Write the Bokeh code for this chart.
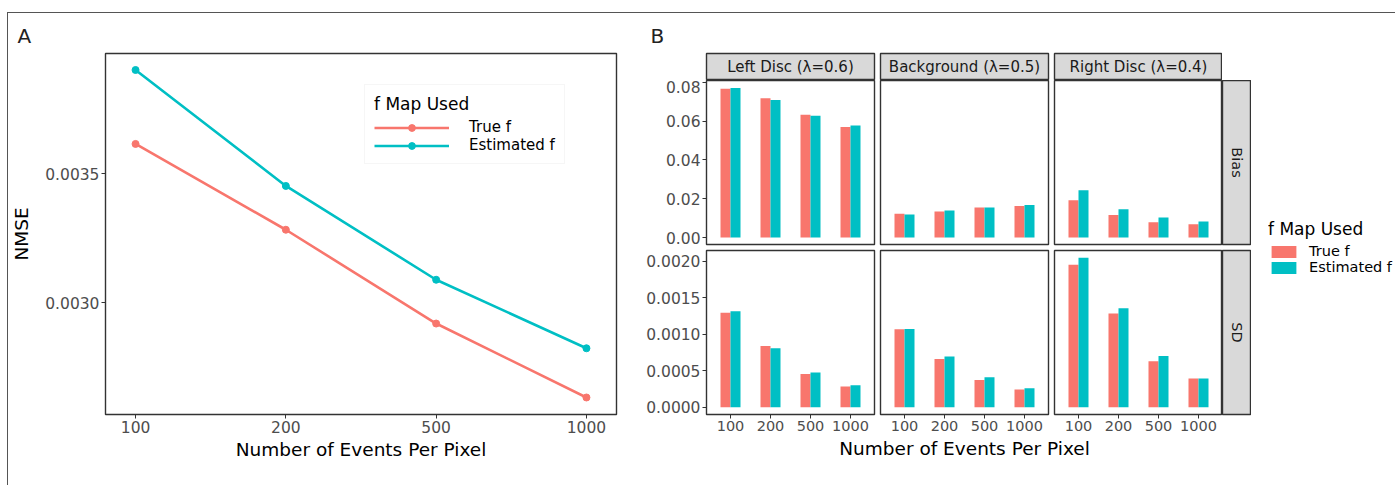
from bokeh.plotting import figure
from bokeh.models import (ColumnDataSource, Range1d, FixedTicker, Legend, LegendItem,
                          Spacer, PrintfTickFormatter, Title)
from bokeh.layouts import row, column
from bokeh.transform import dodge
from bokeh.embed import file_html
from bokeh.resources import INLINE
from bokeh.core.properties import value

# ---------------- data ----------------
events = ["100", "200", "500", "1000"]

# Panel A: NMSE
nmse_true = [0.003616, 0.003283, 0.002919, 0.002632]
nmse_est = [0.003903, 0.003453, 0.003089, 0.002823]
nmse_ticks = [0.0030, 0.0035]

# Panel B
regions = ["Left Disc (\u03bb=0.6)", "Background (\u03bb=0.5)", "Right Disc (\u03bb=0.4)"]
metrics = ["Bias", "SD"]
bias_true = [[0.0766, 0.0718, 0.0632, 0.0569],
             [0.0123, 0.0134, 0.0154, 0.0163],
             [0.0192, 0.0116, 0.0079, 0.0068]]
bias_est = [[0.0771, 0.0709, 0.0627, 0.0577],
            [0.0118, 0.0139, 0.0154, 0.0168],
            [0.0243, 0.0146, 0.0103, 0.0082]]
sd_true = [[0.001297, 0.000841, 0.000457, 0.000284],
           [0.001068, 0.000663, 0.000375, 0.000242],
           [0.001955, 0.001284, 0.000630, 0.000393]]
sd_est = [[0.001315, 0.000808, 0.000475, 0.000301],
          [0.001074, 0.000695, 0.000411, 0.000260],
          [0.002050, 0.001356, 0.000704, 0.000393]]
bias_ticks = [0.0, 0.02, 0.04, 0.06, 0.08]
sd_ticks = [0.0, 0.0005, 0.0010, 0.0015, 0.0020]
series = ["True f", "Estimated f"]
x_title = "Number of Events Per Pixel"
legend_title = "f Map Used"
panel_tags = ["A", "B"]

# ---------------- style ----------------
FONT = "DejaVu Sans"
RED = "#F8766D"
TEAL = "#00BFC4"
BORDER = "#333333"
FRAMEC = "#555555"
xi = list(range(1, len(events) + 1))


def base_fig(width, height, ml, mr, mt, mb, xr, yr, xloc=None, yloc=None):
    p = figure(width=width, height=height, x_range=xr, y_range=yr,
               x_axis_location=xloc, y_axis_location=yloc,
               output_backend="svg", toolbar_location=None, title=None,
               min_border_left=ml, min_border_right=mr,
               min_border_top=mt, min_border_bottom=mb)
    p.grid.visible = False
    p.outline_line_color = BORDER
    p.outline_line_width = 1.4
    p.background_fill_color = "white"
    p.border_fill_color = "white"
    return p


def style_axis(ax, size):
    ax.axis_line_color = None
    ax.major_tick_line_color = BORDER
    ax.major_tick_line_width = 1
    ax.major_tick_in = 0
    ax.major_tick_out = 4
    ax.minor_tick_line_color = None
    ax.major_label_text_font = FONT
    ax.major_label_text_font_size = size
    ax.major_label_text_color = "#4D4D4D"
    ax.major_label_standoff = 2
    ax.axis_label_text_font = FONT
    ax.axis_label_text_font_style = "normal"
    ax.axis_label_text_font_size = "18.5px"
    ax.axis_label_text_color = "black"


def legend_style(leg, label_size):
    leg.title_text_font = FONT
    leg.title_text_font_style = "normal"
    leg.title_text_font_size = "17px"
    leg.title_text_color = "black"
    leg.label_text_font = FONT
    leg.label_text_font_size = label_size
    leg.label_text_color = "black"


def tag_title(text, offset):
    return Title(text=text, align="left", offset=offset, standoff=11,
                 text_font=FONT, text_font_size="20px", text_font_style="normal",
                 text_color="#222222")


# ---------------- Panel A ----------------
srcA = ColumnDataSource(dict(x=xi, true=nmse_true, est=nmse_est))
pA = base_fig(632, 472, 92, 24, 40, 71, Range1d(0.8, 4.2), Range1d(0.002566, 0.003967),
              xloc="below", yloc="left")
lt = pA.line("x", "true", source=srcA, line_color=RED, line_width=2.6)
st = pA.scatter("x", "true", source=srcA, color=RED, size=7)
le = pA.line("x", "est", source=srcA, line_color=TEAL, line_width=2.6)
se = pA.scatter("x", "est", source=srcA, color=TEAL, size=7)

style_axis(pA.xaxis[0], "15.5px")
style_axis(pA.yaxis[0], "15.5px")
pA.xaxis.ticker = FixedTicker(ticks=xi)
pA.xaxis.major_label_overrides = {i: e for i, e in zip(xi, events)}
pA.xaxis.axis_label = x_title
pA.xaxis.axis_label_standoff = 3
pA.yaxis.ticker = FixedTicker(ticks=nmse_ticks)
pA.yaxis.formatter = PrintfTickFormatter(format="%.4f")
pA.yaxis.axis_label = "NMSE"
pA.yaxis.axis_label_standoff = 10

legA = Legend(items=[LegendItem(label=series[0], renderers=[lt, st]),
                     LegendItem(label=series[1], renderers=[le, se])],
              location=(259, 250), title=legend_title,
              glyph_width=75, glyph_height=17, label_height=17, label_standoff=20,
              spacing=0, padding=9, title_standoff=4,
              border_line_color="#EEEEEE", background_fill_color="white")
legend_style(legA, "15px")
pA.add_layout(legA)
pA.add_layout(tag_title(panel_tags[0], -88), "above")

# ---------------- Panel B ----------------
col_geom = [(236, 66, 2), (174, 4, 2), (172, 4, 0)]  # width, left, right borders
cols = []
for c, (w, ml, mr) in enumerate(col_geom):
    # strip
    s = base_fig(w, 67, ml, mr, 40, 0, Range1d(0, 1), Range1d(0, 1))
    s.background_fill_color = "#D9D9D9"
    s.text(x=[0.5], y=[0.5], text=[regions[c]], text_align="center", text_baseline="middle",
           text_font=value(FONT), text_font_size="15px", text_color="#1A1A1A")
    if c == 0:
        s.add_layout(tag_title(panel_tags[1], -56), "above")
    # Bias row
    p1 = base_fig(w, 167, ml, mr, 0, 3, Range1d(0.4, 4.6), Range1d(-0.0036, 0.0809),
                  yloc="left" if c == 0 else None)
    src1 = ColumnDataSource(dict(x=xi, true=bias_true[c], est=bias_est[c]))
    p1.vbar(x=dodge("x", -0.125), top="true", width=0.25, source=src1, fill_color=RED, line_color=None)
    p1.vbar(x=dodge("x", 0.125), top="est", width=0.25, source=src1, fill_color=TEAL, line_color=None)
    if c == 0:
        style_axis(p1.yaxis[0], "15.5px")
        p1.yaxis.ticker = FixedTicker(ticks=bias_ticks)
        p1.yaxis.formatter = PrintfTickFormatter(format="%.2f")
    # SD row
    p2 = base_fig(w, 189, ml, mr, 3, 22, Range1d(0.4, 4.6), Range1d(-0.0001, 0.00215),
                  xloc="below", yloc="left" if c == 0 else None)
    src2 = ColumnDataSource(dict(x=xi, true=sd_true[c], est=sd_est[c]))
    p2.vbar(x=dodge("x", -0.125), top="true", width=0.25, source=src2, fill_color=RED, line_color=None)
    p2.vbar(x=dodge("x", 0.125), top="est", width=0.25, source=src2, fill_color=TEAL, line_color=None)
    style_axis(p2.xaxis[0], "14.5px")
    p2.xaxis.ticker = FixedTicker(ticks=xi)
    p2.xaxis.major_label_overrides = {i: e for i, e in zip(xi, events)}
    if c == 0:
        style_axis(p2.yaxis[0], "15.5px")
        p2.yaxis.ticker = FixedTicker(ticks=sd_ticks)
        p2.yaxis.formatter = PrintfTickFormatter(format="%.4f")
    cols.append(column(s, p1, p2))

# right strips
rs = []
for m, (h, mt, mb) in zip(metrics, [(167, 0, 3), (189, 3, 22)]):
    r = base_fig(29, h, 0, 1, mt, mb, Range1d(0, 1), Range1d(0, 1))
    r.background_fill_color = "#D9D9D9"
    r.text(x=[0.5], y=[0.5], text=[m], angle=-1.5707963, text_align="center",
           text_baseline="middle", text_font=value(FONT), text_font_size="14.5px",
           text_color="#1A1A1A")
    rs.append(r)
colR = column(Spacer(width=29, height=67), rs[0], rs[1])

# shared x-axis title for panel B (centred on the panel columns)
pT = base_fig(611, 49, 66, 29, 0, 0, Range1d(0, 1), Range1d(0, 1))
pT.outline_line_color = None
pT.text(x=[0.5], y=[1], text=[x_title], text_align="center", text_baseline="top", y_offset=1,
        text_font=value(FONT), text_font_size="18.5px", text_color="black")

# legend B
pL = base_fig(144, 472, 17, 0, 206, 0, Range1d(0.4, 4.6), Range1d(0, 1))
pL.outline_line_color = None
srcL = ColumnDataSource(dict(x=xi, true=bias_true[0], est=bias_est[0]))
r1 = pL.vbar(x="x", top="true", width=0.25, source=srcL, fill_color=RED, line_color=None, visible=False)
r2 = pL.vbar(x="x", top="est", width=0.25, source=srcL, fill_color=TEAL, line_color=None, visible=False)
legB = Legend(items=[LegendItem(label=series[0], renderers=[r1]),
                     LegendItem(label=series[1], renderers=[r2])],
              location="top_left", margin=0, padding=0, title=legend_title,
              glyph_width=31, glyph_height=15, label_height=15, label_standoff=10,
              spacing=0, title_standoff=4, inactive_fill_alpha=0,
              border_line_color=None, background_fill_color=None)
legend_style(legB, "14.5px")
pL.add_layout(legB)

groupB = row(column(row(cols[0], cols[1], cols[2], colR), pT), pL)

layout = column(
    Spacer(width=1395, height=12),
    row(Spacer(width=7, height=473),
        Spacer(width=1, height=473, styles={"background-color": FRAMEC}),
        column(Spacer(width=1387, height=1, styles={"background-color": FRAMEC}),
               row(pA, groupB))))

with open("out.html", "w", encoding="utf-8") as f:
    f.write(file_html(layout, INLINE))
